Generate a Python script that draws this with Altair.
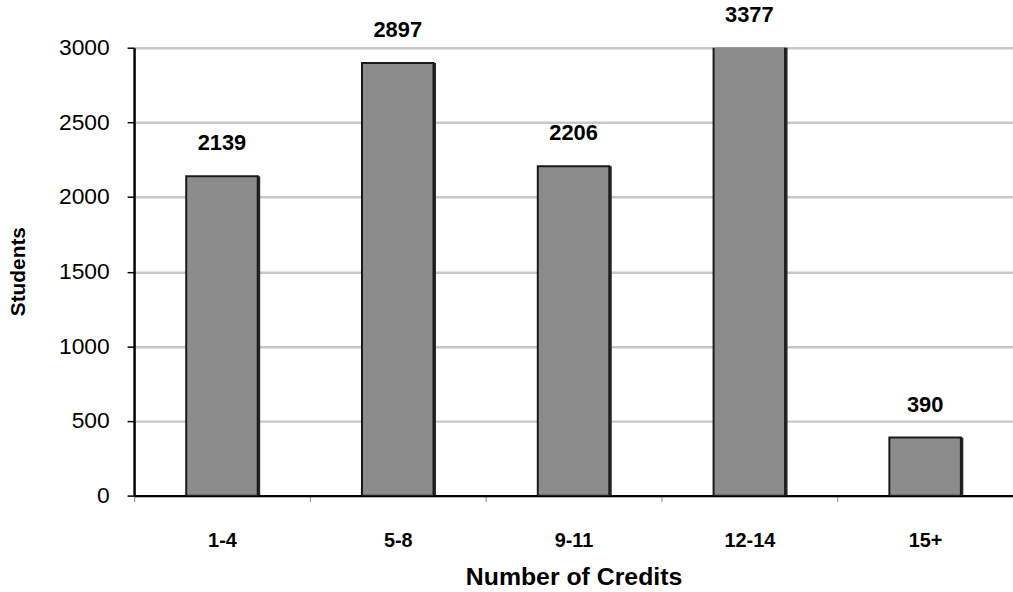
import altair as alt
import pandas as pd

# Enrolment by credit load
credit_bands = ["1-4", "5-8", "9-11", "12-14", "15+"]
student_counts = [2139, 2897, 2206, 3377, 390]

y_ticks = [0, 500, 1000, 1500, 2000, 2500, 3000]
y_max = 3000

df = pd.DataFrame({"credits": credit_bands, "students": student_counts})

FONT = "Liberation Sans, Arial, sans-serif"

x_enc = alt.X(
    "credits:N",
    sort=credit_bands,
    scale=alt.Scale(paddingInner=0, paddingOuter=0),
    axis=alt.Axis(
        title="Number of Credits",
        labelAngle=0,
        labelFont=FONT,
        labelFontWeight="bold",
        labelFontSize=20,
        labelColor="black",
        labelPadding=29,
        tickBand="extent",
        tickColor="#888888",
        tickSize=6,
        tickWidth=1,
        domainColor="black",
        domainWidth=2.5,
        titleFont=FONT,
        titleFontWeight="bold",
        titleFontSize=25,
        titleColor="black",
        titlePadding=14,
        grid=False,
    ),
)

y_scale = alt.Scale(domain=[0, y_max], nice=False)

y_enc = alt.Y(
    "students:Q",
    scale=y_scale,
    axis=alt.Axis(
        title="Students",
        values=y_ticks,
        format="d",
        labelFont=FONT,
        labelFontSize=23,
        labelColor="black",
        labelPadding=18,
        tickColor="black",
        tickSize=7,
        tickWidth=1.5,
        domainColor="black",
        domainWidth=2.5,
        grid=True,
        gridColor="#c8c8c8",
        gridWidth=2.5,
        titleFont=FONT,
        titleFontWeight="bold",
        titleFontSize=21,
        titleColor="black",
        titleAngle=270,
        titleX=-116,
        titleY=225,
        titleAlign="center",
        titleBaseline="middle",
    ),
)

base = alt.Chart(df)

# dark drop shadow on the right edge of each bar
shadow = base.mark_bar(size=72, clip=True, color="#2a2a2a", xOffset=2.5).encode(
    x=x_enc, y=y_enc
)

bars = base.mark_bar(
    size=72, clip=True, color="#8c8c8c", stroke="#1a1a1a", strokeWidth=2
).encode(x=x_enc, y=y_enc)

labels = (
    base.transform_calculate(label_y=f"min(datum.students, {y_max})")
    .mark_text(
        dy=-33,
        font=FONT,
        fontWeight="bold",
        fontSize=22,
        color="black",
        baseline="middle",
    )
    .encode(
        x=alt.X("credits:N", sort=credit_bands),
        y=alt.Y("label_y:Q", scale=y_scale),
        text=alt.Text("students:Q", format="d"),
    )
)

chart = (
    alt.layer(shadow, bars, labels)
    .properties(
        width=885,
        height=451,
        autosize=alt.AutoSizeParams(type="none"),
        padding={"left": 135, "top": 46, "right": 0, "bottom": 95},
    )
    .configure_view(stroke=None)
    .configure(background="white")
)

chart.save("out.html", embed_options={"renderer": "svg", "actions": False})
